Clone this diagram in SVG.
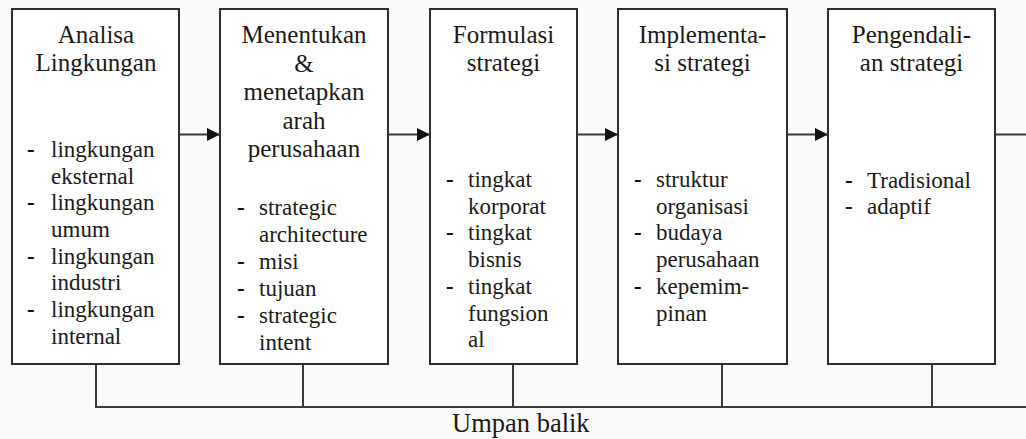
<svg xmlns="http://www.w3.org/2000/svg" width="1026" height="439" viewBox="0 0 1026 439">
<style>
.box{fill:#ffffff;stroke:#2e2e2e;stroke-width:2}
.ln{fill:none;stroke:#3a3a3a;stroke-width:2}
text{font-family:'Liberation Serif','Tinos','DejaVu Serif',serif;fill:#1c1a18}
.t{font-size:25px;text-anchor:middle}
.b{font-size:23px}
.d{font-size:23px;fill:#111;font-weight:bold}
.u{font-size:26.5px}
</style>
<defs>
<marker id="ah" viewBox="0 0 10 10" refX="10" refY="5" markerWidth="13" markerHeight="13" markerUnits="userSpaceOnUse" orient="auto">
<path d="M0,0 L10,5 L0,10 Z" fill="#111"/>
</marker>
</defs>
<rect x="0" y="0" width="1026" height="439" fill="#fafafa"/>
<g id="connectors">
<line class="ln" x1="179" y1="134.5" x2="220" y2="134.5" marker-end="url(#ah)"/>
<line class="ln" x1="388" y1="134.5" x2="430" y2="134.5" marker-end="url(#ah)"/>
<line class="ln" x1="577" y1="134.5" x2="618" y2="134.5" marker-end="url(#ah)"/>
<line class="ln" x1="787" y1="134.5" x2="828" y2="134.5" marker-end="url(#ah)"/>
<line class="ln" x1="995" y1="134.5" x2="1026" y2="134.5"/>
<polyline class="ln" points="96,364 96,407 1026,407"/>
<line class="ln" x1="303" y1="364" x2="303" y2="407"/>
<line class="ln" x1="513" y1="364" x2="513" y2="407"/>
<line class="ln" x1="722" y1="364" x2="722" y2="407"/>
<line class="ln" x1="932" y1="364" x2="932" y2="407"/>
<text class="u" x="452" y="432" font-family="Liberation Serif">Umpan balik</text>
</g>
<g id="node1" font-family="Liberation Serif">
<rect class="box" x="12" y="9" width="167" height="355"/>
<text class="t" x="96" y="43">Analisa</text>
<text class="t" x="96" y="71">Lingkungan</text>
<text class="d" x="27" y="157">-</text><text class="b" x="51" y="157">lingkungan</text>
<text class="b" x="51" y="183.5">eksternal</text>
<text class="d" x="27" y="210">-</text><text class="b" x="51" y="210">lingkungan</text>
<text class="b" x="51" y="237">umum</text>
<text class="d" x="27" y="263.5">-</text><text class="b" x="51" y="263.5">lingkungan</text>
<text class="b" x="51" y="290">industri</text>
<text class="d" x="27" y="317">-</text><text class="b" x="51" y="317">lingkungan</text>
<text class="b" x="51" y="344">internal</text>
</g>
<g id="node2">
<rect class="box" x="220" y="9" width="168" height="355"/>
<text class="t" x="304" y="43">Menentukan</text>
<text class="t" x="304" y="71.5">&amp;</text>
<text class="t" x="304" y="100">menetapkan</text>
<text class="t" x="304" y="128.5">arah</text>
<text class="t" x="304" y="157">perusahaan</text>
<text class="d" x="237" y="215">-</text><text class="b" x="259" y="215">strategic</text>
<text class="b" x="259" y="242">architecture</text>
<text class="d" x="237" y="269">-</text><text class="b" x="259" y="269">misi</text>
<text class="d" x="237" y="296">-</text><text class="b" x="259" y="296">tujuan</text>
<text class="d" x="237" y="323">-</text><text class="b" x="259" y="323">strategic</text>
<text class="b" x="259" y="350">intent</text>
</g>
<g id="node3">
<rect class="box" x="430" y="9" width="147" height="355"/>
<text class="t" x="503.5" y="43">Formulasi</text>
<text class="t" x="503.5" y="71">strategi</text>
<text class="d" x="446" y="187">-</text><text class="b" x="468" y="187">tingkat</text>
<text class="b" x="468" y="213.5">korporat</text>
<text class="d" x="446" y="240">-</text><text class="b" x="468" y="240">tingkat</text>
<text class="b" x="468" y="267">bisnis</text>
<text class="d" x="446" y="294">-</text><text class="b" x="468" y="294">tingkat</text>
<text class="b" x="468" y="320.5">fungsion</text>
<text class="b" x="468" y="347">al</text>
</g>
<g id="node4">
<rect class="box" x="618" y="9" width="169" height="355"/>
<text class="t" x="702.5" y="43">Implementa-</text>
<text class="t" x="702.5" y="71">si strategi</text>
<text class="d" x="634" y="187">-</text><text class="b" x="656" y="187">struktur</text>
<text class="b" x="656" y="213.5">organisasi</text>
<text class="d" x="634" y="240">-</text><text class="b" x="656" y="240">budaya</text>
<text class="b" x="656" y="267">perusahaan</text>
<text class="d" x="634" y="294">-</text><text class="b" x="656" y="294">kepemim-</text>
<text class="b" x="656" y="320.5">pinan</text>
</g>
<g id="node5">
<rect class="box" x="828" y="9" width="167" height="355"/>
<text class="t" x="911.5" y="43">Pengendali-</text>
<text class="t" x="911.5" y="71">an strategi</text>
<text class="d" x="845" y="188">-</text><text class="b" x="867" y="188">Tradisional</text>
<text class="d" x="845" y="213.5">-</text><text class="b" x="867" y="213.5">adaptif</text>
</g>
</svg>
